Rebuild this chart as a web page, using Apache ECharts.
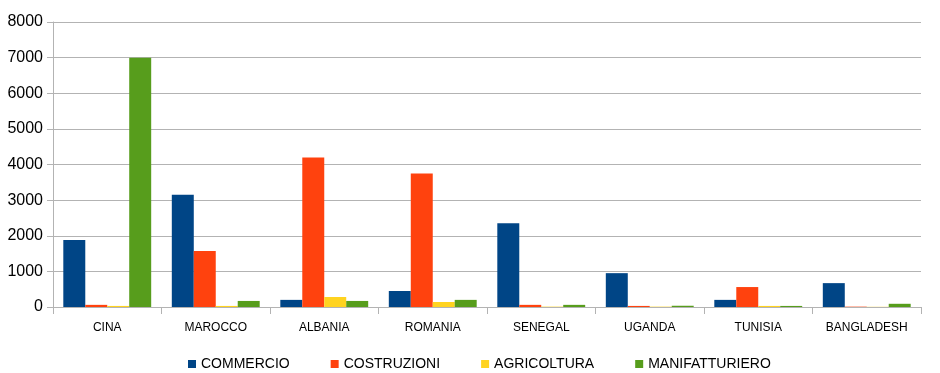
<!DOCTYPE html>
<html><head><meta charset="utf-8">
<script src="https://cdn.jsdelivr.net/npm/echarts@6/dist/echarts.min.js"></script>
<style>html,body{margin:0;padding:0;background:#fff}#c{width:940px;height:373px}</style>
</head><body><div id="c"></div>
<script>
const categories = ['CINA','MAROCCO','ALBANIA','ROMANIA','SENEGAL','UGANDA','TUNISIA','BANGLADESH'];
const commercio = [1880, 3150, 200, 450, 2350, 950, 200, 670];
const costruzioni = [60, 1570, 4200, 3750, 60, 30, 560, 10];
const agricoltura = [30, 30, 280, 140, 10, 10, 30, 5];
const manifatturiero = [7000, 170, 170, 200, 60, 35, 30, 90];
const yTicks = [0, 1000, 2000, 3000, 4000, 5000, 6000, 7000, 8000];

const names = ['COMMERCIO','COSTRUZIONI','AGRICOLTURA','MANIFATTURIERO'];
const colors = ['#004586','#ff420e','#ffd320','#579d1c'];
const data = [commercio, costruzioni, agricoltura, manifatturiero];
const chart = echarts.init(document.getElementById('c'));
chart.setOption({
  animation: false,
  textStyle: {fontFamily: 'Liberation Sans'},
  grid: {left: 53, right: 19, top: 22, bottom: 66},
  legend: {
    top: 352, left: 183, itemWidth: 8, itemHeight: 8, itemGap: 41,
    icon: 'rect',
    textStyle: {fontSize: 14, color: '#000', fontFamily: 'Liberation Sans'},
    data: names
  },
  xAxis: {
    type: 'category', data: categories,
    axisLine: {lineStyle: {color: '#b3b3b3'}},
    axisTick: {show: true, length: 7, lineStyle: {color: '#b3b3b3'}},
    axisLabel: {color: '#000', fontSize: 12, margin: 15}
  },
  yAxis: {
    type: 'value', min: yTicks[0], max: yTicks[yTicks.length-1], interval: 1000,
    axisLine: {show: true, lineStyle: {color: '#b3b3b3'}},
    axisTick: {show: true, length: 6, lineStyle: {color: '#b3b3b3'}},
    splitLine: {lineStyle: {color: '#b3b3b3'}},
    axisLabel: {color: '#000', fontSize: 16, margin: 10, formatter: v => String(v)}
  },
  series: names.map((n, i) => ({
    name: n, type: 'bar', data: data[i], barGap: '0%', barCategoryGap: '19%',
    itemStyle: {color: colors[i]}
  }))
});
</script></body></html>
